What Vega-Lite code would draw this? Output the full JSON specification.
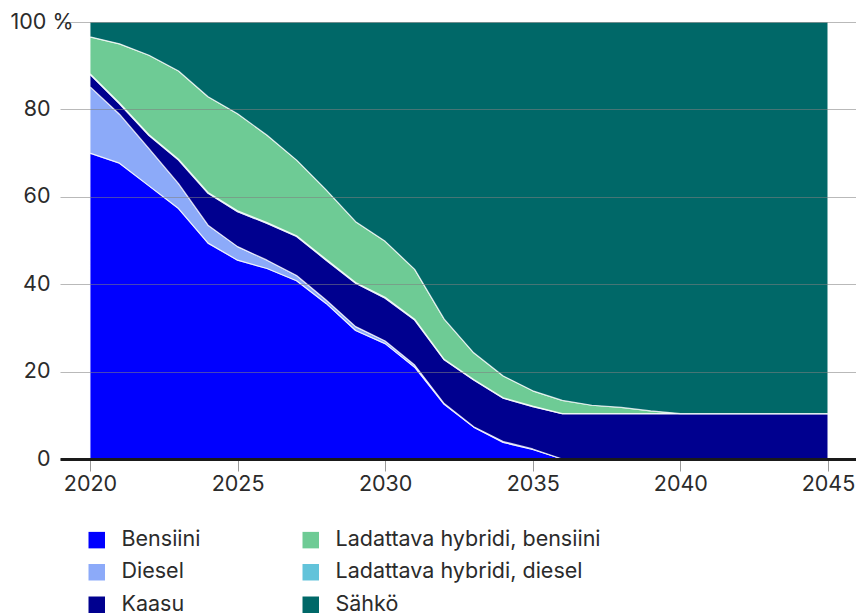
{
  "$schema": "https://vega.github.io/schema/vega-lite/v6.json",
  "width": 796,
  "height": 437,
  "autosize": {"type": "none"},
  "padding": {"left": 60, "top": 22, "right": 0, "bottom": 157},
  "background": "white",
  "config": {
    "view": {"stroke": null},
    "font": "Inter",
    "axis": {"labelFont": "Inter", "labelFontSize": 21.5, "labelColor": "#2b2b2b"}
  },
  "data": {
    "values": [
      {"vuosi": 2020, "Bensiini": 70.0, "Diesel": 15.2, "Kaasu": 2.8, "Ladattava hybridi, diesel": 0.2, "Ladattava hybridi, bensiini": 8.4, "Sähkö": 3.4},
      {"vuosi": 2021, "Bensiini": 67.7, "Diesel": 11.2, "Kaasu": 2.4, "Ladattava hybridi, diesel": 0.2, "Ladattava hybridi, bensiini": 13.5, "Sähkö": 5.0},
      {"vuosi": 2022, "Bensiini": 62.5, "Diesel": 8.5, "Kaasu": 3.0, "Ladattava hybridi, diesel": 0.2, "Ladattava hybridi, bensiini": 18.2, "Sähkö": 7.6},
      {"vuosi": 2023, "Bensiini": 57.3, "Diesel": 5.7, "Kaasu": 5.4, "Ladattava hybridi, diesel": 0.2, "Ladattava hybridi, bensiini": 20.2, "Sähkö": 11.2},
      {"vuosi": 2024, "Bensiini": 49.4, "Diesel": 4.1, "Kaasu": 7.3, "Ladattava hybridi, diesel": 0.2, "Ladattava hybridi, bensiini": 21.9, "Sähkö": 17.1},
      {"vuosi": 2025, "Bensiini": 45.5, "Diesel": 3.1, "Kaasu": 8.0, "Ladattava hybridi, diesel": 0.2, "Ladattava hybridi, bensiini": 22.2, "Sähkö": 21.0},
      {"vuosi": 2026, "Bensiini": 43.6, "Diesel": 1.9, "Kaasu": 8.4, "Ladattava hybridi, diesel": 0.2, "Ladattava hybridi, bensiini": 20.0, "Sähkö": 25.9},
      {"vuosi": 2027, "Bensiini": 40.8, "Diesel": 1.2, "Kaasu": 8.9, "Ladattava hybridi, diesel": 0.2, "Ladattava hybridi, bensiini": 17.3, "Sähkö": 31.6},
      {"vuosi": 2028, "Bensiini": 35.6, "Diesel": 0.8, "Kaasu": 9.1, "Ladattava hybridi, diesel": 0.2, "Ladattava hybridi, bensiini": 15.9, "Sähkö": 38.4},
      {"vuosi": 2029, "Bensiini": 29.4, "Diesel": 0.9, "Kaasu": 9.9, "Ladattava hybridi, diesel": 0.2, "Ladattava hybridi, bensiini": 13.9, "Sähkö": 45.7},
      {"vuosi": 2030, "Bensiini": 26.4, "Diesel": 0.6, "Kaasu": 9.8, "Ladattava hybridi, diesel": 0.2, "Ladattava hybridi, bensiini": 12.8, "Sähkö": 50.2},
      {"vuosi": 2031, "Bensiini": 21.0, "Diesel": 0.5, "Kaasu": 10.3, "Ladattava hybridi, diesel": 0.2, "Ladattava hybridi, bensiini": 11.4, "Sähkö": 56.6},
      {"vuosi": 2032, "Bensiini": 12.5, "Diesel": 0.2, "Kaasu": 10.0, "Ladattava hybridi, diesel": 0.1, "Ladattava hybridi, bensiini": 9.2, "Sähkö": 68.0},
      {"vuosi": 2033, "Bensiini": 7.3, "Diesel": 0.1, "Kaasu": 10.7, "Ladattava hybridi, diesel": 0.1, "Ladattava hybridi, bensiini": 6.1, "Sähkö": 75.7},
      {"vuosi": 2034, "Bensiini": 3.8, "Diesel": 0.2, "Kaasu": 9.9, "Ladattava hybridi, diesel": 0.1, "Ladattava hybridi, bensiini": 5.0, "Sähkö": 81.0},
      {"vuosi": 2035, "Bensiini": 2.2, "Diesel": 0.1, "Kaasu": 9.7, "Ladattava hybridi, diesel": 0.1, "Ladattava hybridi, bensiini": 3.5, "Sähkö": 84.4},
      {"vuosi": 2036, "Bensiini": 0.0, "Diesel": 0.0, "Kaasu": 10.4, "Ladattava hybridi, diesel": 0.0, "Ladattava hybridi, bensiini": 3.0, "Sähkö": 86.6},
      {"vuosi": 2037, "Bensiini": 0.0, "Diesel": 0.0, "Kaasu": 10.4, "Ladattava hybridi, diesel": 0.0, "Ladattava hybridi, bensiini": 1.9, "Sähkö": 87.7},
      {"vuosi": 2038, "Bensiini": 0.0, "Diesel": 0.0, "Kaasu": 10.4, "Ladattava hybridi, diesel": 0.0, "Ladattava hybridi, bensiini": 1.4, "Sähkö": 88.2},
      {"vuosi": 2039, "Bensiini": 0.0, "Diesel": 0.0, "Kaasu": 10.4, "Ladattava hybridi, diesel": 0.0, "Ladattava hybridi, bensiini": 0.6, "Sähkö": 89.0},
      {"vuosi": 2040, "Bensiini": 0.0, "Diesel": 0.0, "Kaasu": 10.4, "Ladattava hybridi, diesel": 0.0, "Ladattava hybridi, bensiini": 0.0, "Sähkö": 89.6},
      {"vuosi": 2041, "Bensiini": 0.0, "Diesel": 0.0, "Kaasu": 10.4, "Ladattava hybridi, diesel": 0.0, "Ladattava hybridi, bensiini": 0.0, "Sähkö": 89.6},
      {"vuosi": 2042, "Bensiini": 0.0, "Diesel": 0.0, "Kaasu": 10.4, "Ladattava hybridi, diesel": 0.0, "Ladattava hybridi, bensiini": 0.0, "Sähkö": 89.6},
      {"vuosi": 2043, "Bensiini": 0.0, "Diesel": 0.0, "Kaasu": 10.4, "Ladattava hybridi, diesel": 0.0, "Ladattava hybridi, bensiini": 0.0, "Sähkö": 89.6},
      {"vuosi": 2044, "Bensiini": 0.0, "Diesel": 0.0, "Kaasu": 10.4, "Ladattava hybridi, diesel": 0.0, "Ladattava hybridi, bensiini": 0.0, "Sähkö": 89.6},
      {"vuosi": 2045, "Bensiini": 0.0, "Diesel": 0.0, "Kaasu": 10.4, "Ladattava hybridi, diesel": 0.0, "Ladattava hybridi, bensiini": 0.0, "Sähkö": 89.6}
    ]
  },
  "transform": [
    {"fold": ["Bensiini", "Diesel", "Kaasu", "Ladattava hybridi, diesel", "Ladattava hybridi, bensiini", "Sähkö"], "as": ["käyttövoima", "osuus"]},
    {"calculate": "indexof(['Bensiini', 'Diesel', 'Kaasu', 'Ladattava hybridi, diesel', 'Ladattava hybridi, bensiini', 'Sähkö'], datum['käyttövoima'])", "as": "pino"}
  ],
  "mark": {"type": "area", "interpolate": "linear", "stroke": "#ffffff", "strokeOpacity": 0.75, "strokeWidth": 1.2, "strokeJoin": "round"},
  "encoding": {
    "x": {
      "field": "vuosi",
      "type": "quantitative",
      "scale": {"domain": [2018.984, 2045.95], "nice": false, "zero": false},
      "axis": {
        "title": null,
        "values": [2020, 2025, 2030, 2035, 2040, 2045],
        "format": "d",
        "grid": false,
        "domainColor": "#1a1a1a",
        "domainWidth": 3,
        "tickColor": "#9a9a9a",
        "tickWidth": 1,
        "tickSize": 12,
        "labelPadding": 2,
        "labelFlush": false,
        "zindex": 2
      }
    },
    "y": {
      "field": "osuus",
      "type": "quantitative",
      "stack": "zero",
      "scale": {"domain": [0, 100], "nice": false},
      "axis": {
        "title": null,
        "values": [0, 20, 40, 60, 80, 100],
        "labelExpr": "datum.value == 100 ? '100 %' : datum.label",
        "domain": false,
        "ticks": false,
        "labelPadding": {"condition": {"test": "datum.value == 100", "value": -13}, "value": 10},
        "grid": true,
        "gridColor": "#7f7f7f",
        "gridOpacity": 0.55,
        "gridWidth": 1,
        "zindex": 1
      }
    },
    "color": {
      "field": "käyttövoima",
      "type": "nominal",
      "scale": {
        "domain": ["Bensiini", "Diesel", "Kaasu", "Ladattava hybridi, bensiini", "Ladattava hybridi, diesel", "Sähkö"],
        "range": ["#0000ff", "#8caaf9", "#00008f", "#6ecb95", "#62c3da", "#006868"]
      },
      "legend": {
        "title": null,
        "orient": "none",
        "legendX": 26,
        "legendY": 507,
        "direction": "vertical",
        "columns": 2,
        "columnPadding": 99,
        "rowPadding": 9.5,
        "symbolType": "square",
        "symbolSize": 272,
        "symbolStrokeWidth": 0,
        "symbolOpacity": 1,
        "labelFont": "Inter",
        "labelFontSize": 21.5,
        "labelColor": "#2b2b2b",
        "labelOffset": 14,
        "labelLimit": 400
      }
    },
    "order": {"field": "pino", "type": "quantitative", "sort": "ascending"}
  }
}
